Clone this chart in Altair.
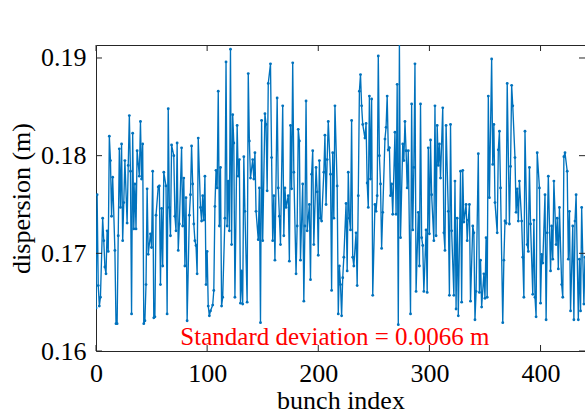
import altair as alt
import numpy as np
import pandas as pd

# ---- data (dispersion in mm, segment by segment) ----
seg_starts = [0, 44, 88, 132, 176, 220, 264, 308, 352, 396]
last_bunch = 440

seg1 = [164.4, 176.0, 166.7, 164.6, 165.5, 173.6, 171.3, 168.6, 167.9, 172.3, 170.2, 182.0, 179.5, 173.8,
        177.8, 170.3, 162.8, 162.8, 171.8, 180.7, 174.7, 181.2, 171.3, 175.2, 179.5, 173.1, 179.0, 184.1,
        178.4, 163.8, 182.3, 172.5, 177.1, 172.5, 180.5, 177.9, 183.5, 177.6, 181.2, 162.8]
seg2 = [163.1, 166.8, 176.6, 169.9, 172.0, 170.6, 178.4, 163.4, 163.5, 173.9, 176.8, 176.9, 166.8, 174.6,
        168.7, 178.3, 176.9, 163.8, 184.8, 174.7, 171.8, 181.1, 180.0, 173.8, 172.3, 181.3, 170.3, 173.0,
        180.8, 172.8, 177.7, 168.7, 175.7, 163.1, 173.9, 176.0, 181.0, 177.1]
seg3 = [173.0, 171.3, 170.8, 167.9, 181.8, 174.7, 173.3, 175.9, 173.4, 177.9, 166.8, 170.2, 164.6, 163.6,
        164.1, 164.7, 166.2, 174.8, 178.5, 176.7, 186.6, 172.8, 178.8, 164.6, 165.5, 173.6, 189.6, 172.8,
        177.4, 172.3, 190.9, 170.9, 184.2, 181.3, 165.5, 183.1, 177.9, 179.6, 164.9, 168.2]
seg4 = [164.8, 179.9, 174.3, 165.0, 188.4, 181.5, 177.7, 179.6, 177.6, 180.3, 174.3, 171.4, 176.7, 162.9,
        183.6, 171.3, 184.3, 183.2, 176.4, 187.4, 189.4, 179.8, 171.3, 175.9, 169.3, 185.9, 176.7, 173.8,
        170.9, 185.1, 171.8, 176.7, 174.7, 175.9, 169.2, 183.1]
seg5 = [176.6, 189.5, 178.3, 167.9, 172.8, 182.7, 181.5, 169.3, 177.1, 165.1, 172.8, 185.6, 172.3, 175.0,
        167.3, 178.1, 180.5, 170.9, 178.8, 176.3, 169.8, 179.5, 173.6, 173.3, 178.3, 182.1, 175.0, 179.6,
        183.5, 178.1, 166.2, 180.3, 173.6, 185.1, 176.9, 163.8, 168.7]
seg6 = [166.8, 163.6, 167.5, 169.6, 175.1, 168.2, 178.3, 173.6, 172.4, 183.6, 169.6, 168.7, 172.1, 166.7,
        175.9, 186.6, 188.3, 185.1, 183.2, 181.8, 183.3, 177.2, 174.7, 186.1, 177.6, 185.8, 165.7, 175.0,
        174.3, 175.9, 190.2, 180.0, 177.1, 170.5, 174.2, 181.7, 182.9, 186.1, 180.6]
seg7 = [180.8, 175.9, 177.1, 174.0, 182.4, 174.0, 187.3, 162.7, 191.6, 171.6, 181.2, 179.5, 183.5, 180.5,
        176.7, 180.5, 163.8, 185.3, 172.4, 178.8, 189.4, 166.1, 174.2, 168.7, 185.3, 171.6, 170.8, 166.1,
        172.4, 166.0, 180.8, 172.0, 181.6, 176.0, 171.3, 185.1, 171.8, 183.1]
seg8 = [179.0, 181.2, 177.7, 184.9, 172.1, 170.3, 183.1, 174.3, 165.7, 183.2, 172.3, 165.7, 177.4, 164.3,
        173.6, 163.6, 178.4, 165.0, 178.5, 173.2, 175.0, 171.3, 173.4, 175.0, 165.1, 172.8, 172.1, 163.2,
        166.1, 180.2, 166.0, 169.3, 164.5, 167.9, 165.4, 171.6]
seg9 = [165.5, 186.1, 175.7, 189.9, 179.1, 183.2, 175.2, 172.1, 180.6, 182.5, 176.7, 162.9, 169.3, 173.3,
        173.1, 187.4, 173.0, 178.9, 187.2, 185.1, 179.8, 174.2, 176.6, 173.3, 177.4, 173.3, 169.6, 165.5,
        182.5, 170.9, 170.2, 178.8, 173.0, 165.8, 173.4, 165.5]
seg10 = [163.5, 180.3, 176.7, 164.9, 169.9, 169.0, 176.0, 163.2, 172.1, 177.9, 168.2, 172.8, 169.4, 177.4,
         170.9, 173.6, 168.4, 174.7, 166.8, 165.5, 179.9, 180.3, 178.4, 169.4, 174.3, 164.1, 172.8, 163.2,
         173.3, 176.0, 163.2, 169.4, 164.1, 174.7, 164.8, 169.6]

segments = [seg1, seg2, seg3, seg4, seg5, seg6, seg7, seg8, seg9, seg10]

x_ticks = [0, 100, 200, 300, 400]
y_ticks = [0.16, 0.17, 0.18, 0.19]
x_domain = [0, 440]
y_domain = [0.16, 0.19133]
annotation = "Standard deviation = 0.0066 m"
annot_x = [215]
annot_y = [0.1606]

# ---- build table ----
bunch, disp = [], []
ends = seg_starts[1:] + [last_bunch + 1]
for s, e, vals in zip(seg_starts, ends, segments):
    idx = np.round(np.linspace(s, e - 1, len(vals))).astype(int)
    bunch.extend(idx.tolist())
    disp.extend([v / 1000.0 for v in vals])
df = pd.DataFrame({"bunch": bunch, "disp": disp})

W, H = 489, 306
FONT = "Liberation Serif"
BLUE = "#0072BD"
AX = "#262626"

xs = alt.Scale(domain=x_domain, nice=False, zero=False)
ys = alt.Scale(domain=y_domain, nice=False, zero=False)

x_axis = alt.Axis(values=x_ticks, ticks=False, domain=False, grid=False,
                  labelFont=FONT, labelFontSize=26, labelColor="black",
                  labelPadding=9, titleFont=FONT, titleFontSize=26,
                  titleFontWeight="normal", titleColor="black", titlePadding=1,
                  labelFlush=False)
y_axis = alt.Axis(values=y_ticks, ticks=False, domain=False, grid=False,
                  format=".2f", labelFont=FONT, labelFontSize=26, labelColor="black",
                  labelPadding=10, titleFont=FONT, titleFontSize=26,
                  titleFontWeight="normal", titleColor="black", titlePadding=6,
                  labelFlush=False)
XT = "bunch index"
YT = "dispersion (m)"

line = alt.Chart(df).mark_line(
    color=BLUE, strokeWidth=1.35, clip=True,
    point=alt.OverlayMarkDef(color=BLUE, size=8, filled=True, clip=True),
).encode(
    x=alt.X("bunch:Q", scale=xs, title=XT, axis=x_axis),
    y=alt.Y("disp:Q", scale=ys, title=YT, axis=y_axis),
)

xt = pd.DataFrame({"t": x_ticks})
yt = pd.DataFrame({"t": y_ticks})
TL = 6
tick_bottom = alt.Chart(xt).mark_rule(color=AX, strokeWidth=1).encode(
    x=alt.X("t:Q", scale=xs, title=XT, axis=x_axis), y=alt.value(H), y2=alt.value(H - TL))
tick_top = alt.Chart(xt).mark_rule(color=AX, strokeWidth=1).encode(
    x=alt.X("t:Q", scale=xs, title=XT, axis=x_axis), y=alt.value(0), y2=alt.value(TL))
tick_left = alt.Chart(yt).mark_rule(color=AX, strokeWidth=1).encode(
    y=alt.Y("t:Q", scale=ys, title=YT, axis=y_axis), x=alt.value(0), x2=alt.value(TL))
tick_right = alt.Chart(yt).mark_rule(color=AX, strokeWidth=1).encode(
    y=alt.Y("t:Q", scale=ys, title=YT, axis=y_axis), x=alt.value(W), x2=alt.value(W - TL))

txt = alt.Chart(pd.DataFrame({"x": annot_x, "y": annot_y, "label": [annotation]})).mark_text(
    font=FONT, fontSize=25, color="#FF0000", align="center", baseline="alphabetic"
).encode(x=alt.X("x:Q", scale=xs, title=XT, axis=x_axis),
         y=alt.Y("y:Q", scale=ys, title=YT, axis=y_axis), text="label:N")

chart = alt.layer(line, tick_bottom, tick_top, tick_left, tick_right, txt).properties(
    width=W, height=H,
    background="white",
    autosize=alt.AutoSizeParams(type="none"),
    padding={"left": 96, "top": 45, "right": 0, "bottom": 63},
).configure_view(stroke=AX, strokeWidth=1).configure_axis(
    labelFont=FONT, titleFont=FONT, labelFontSize=26, titleFontSize=26
)

chart.save("out.html", embed_options={"renderer": "svg", "actions": False})
